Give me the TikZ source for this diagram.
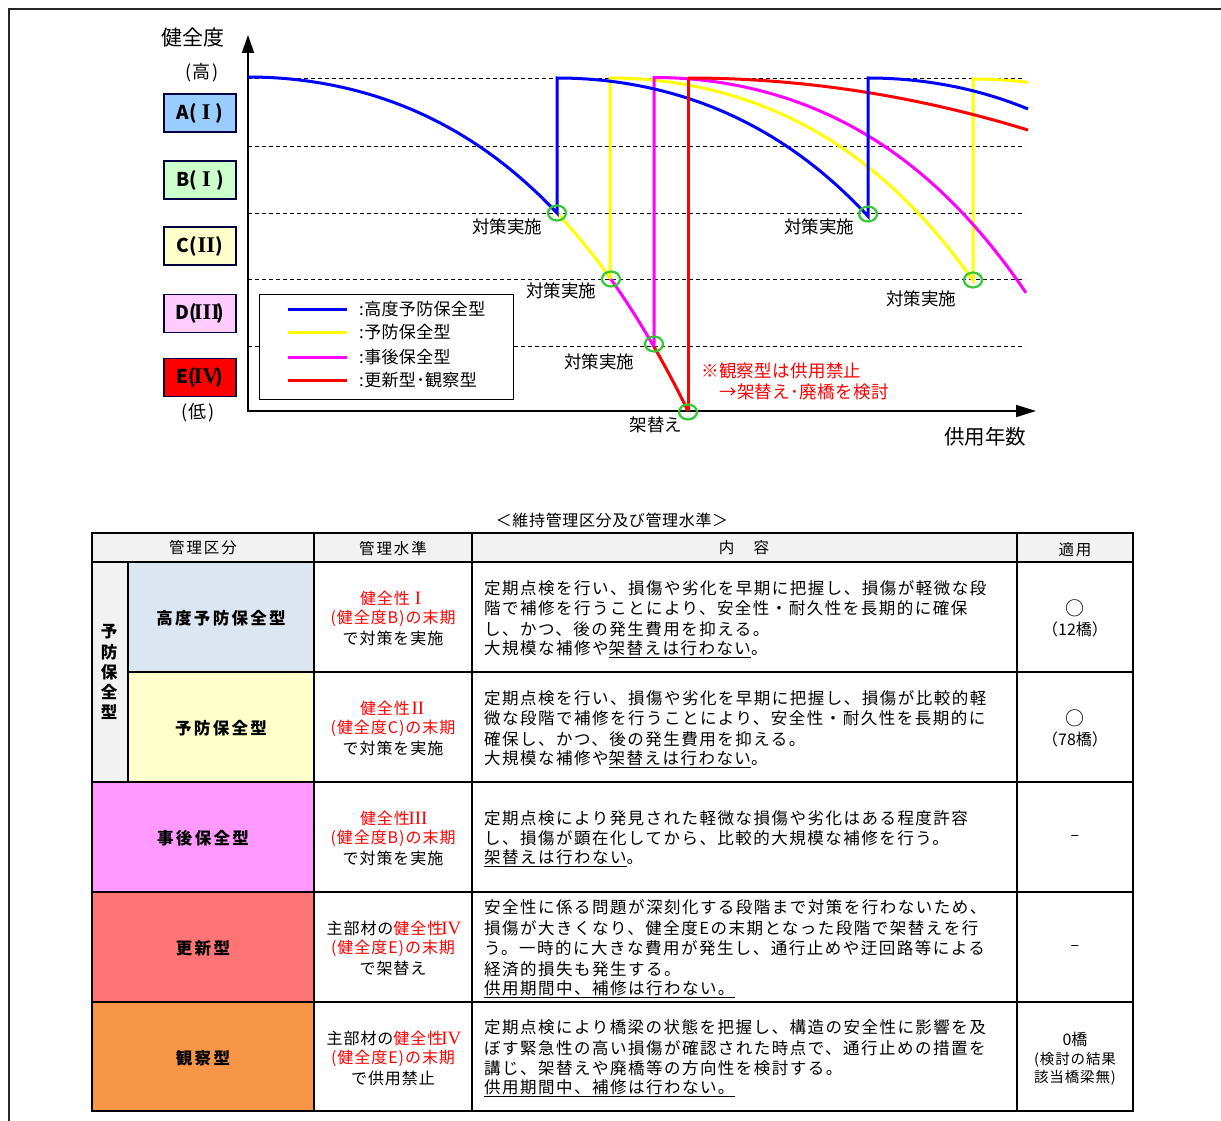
\documentclass[tikz,border=0pt]{standalone}
\usepackage{fontspec}
\setmainfont{Noto Sans CJK JP}
\newfontfamily\rmnum[Scale=1.18]{Liberation Serif}
\usetikzlibrary{arrows.meta}
\definecolor{cBlue}{RGB}{0,0,255}
\definecolor{cYel}{RGB}{255,255,0}
\definecolor{cMag}{RGB}{255,0,255}
\definecolor{cRed}{RGB}{255,0,0}
\definecolor{cGrn}{RGB}{50,200,50}
\definecolor{lvA}{RGB}{153,204,255}
\definecolor{lvB}{RGB}{204,255,204}
\definecolor{lvC}{RGB}{255,255,204}
\definecolor{lvD}{RGB}{255,204,255}
\definecolor{lvE}{RGB}{255,0,0}
\definecolor{hdr}{RGB}{242,242,242}
\definecolor{t1}{RGB}{220,230,241}
\definecolor{t2}{RGB}{255,255,204}
\definecolor{t3}{RGB}{255,153,255}
\definecolor{t4}{RGB}{255,117,117}
\definecolor{t5}{RGB}{247,150,70}
\newcommand\myfs[1]{\fontsize{#1pt}{#1pt}\selectfont}
\newcommand\myls[1]{\addfontfeature{LetterSpace=#1}}
\newcommand\rn[1]{\makebox[1em]{\rmnum #1}}
\pgfmathdeclarefunction{wear}{1}{\pgfmathparse{219.2*((#1)/440)^2+114.8*((#1)/440)^4}}
\tikzset{
  crv/.style={line width=3pt, line join=miter},
  lvl/.style={draw=black!75!blue, line width=1.2pt, minimum width=72pt, minimum height=38pt, inner sep=0, font=\myfs{19}\bfseries},
  lbl/.style={inner sep=0, font=\myfs{17.5}},
  ring/.style={draw=cGrn, line width=2.2pt},
  grid/.style={line width=0.8pt, dash pattern=on 4pt off 3pt},
  body/.style={inner sep=0, anchor=west, font=\myfs{16.5}\myls{9}},
  mg/.style={inner sep=0, font=\myfs{16}\myls{6}},
  ap/.style={inner sep=0, font=\myfs{16}},
  cat/.style={inner sep=0, font=\myfs{16.5}\bfseries\myls{14}},
  hd/.style={inner sep=0, font=\myfs{15.5}\myls{12}},
  tl/.style={line width=1.8pt}
}
\begin{document}
\begin{tikzpicture}[x=1pt,y=-1pt]
\useasboundingbox (0,0) rectangle (1221,1121);
% outer frame
\draw[line width=2pt, black!85] (9,1121) -- (9,9) -- (1221,9);
% ---------------- chart ----------------
\foreach \yy in {78,146,213,279,346} \draw[grid] (248,\yy) -- (1025,\yy);
% legend (covers grid)
\node[draw, fill=white, line width=1.4pt, anchor=north west, minimum width=254pt, minimum height=105pt, inner sep=0] (leg) at (259,294) {};
% axes
\draw[line width=1.8pt, -{Triangle[length=18pt,width=12pt]}] (248,412) -- (248,35);
\draw[line width=1.8pt, -{Triangle[length=20pt,width=12pt]}] (247,411) -- (1036,411);
% shared deterioration curve
\draw[crv, cRed] plot[domain=406:440, samples=20] ({248+\x},{77+wear(\x)});
\draw[crv, cMag] plot[domain=362:406, samples=20] ({248+\x},{77+wear(\x)});
\draw[crv, cYel] plot[domain=309:362, samples=20] ({248+\x},{77+wear(\x)});
% yellow
\draw[crv, cYel] (610,279) -- (610,78) -- plot[domain=0:363, samples=80] ({610+\x},{78+wear(\x)}) -- (973,79) -- plot[domain=0:55, samples=20] ({973+\x},{79+wear(\x)});
% magenta
\draw[crv, cMag] (654,345) -- (654,77.5) -- plot[domain=2:372, samples=80] ({654+\x},{77.5+wear(\x)});
% red
\draw[crv, cRed] plot[domain=0:340, samples=60] ({688+\x},{78+87.1*(\x/440)^2});
% blue
\draw[crv, cBlue] plot[domain=0:309, samples=80] ({248+\x},{77+wear(\x)}) -- (557,78) -- plot[domain=0:311, samples=80] ({557+\x},{78+wear(\x)}) -- (868,78) -- plot[domain=0:160, samples=40] ({868+\x},{78+wear(\x)});
\draw[crv, cRed] (688,411) -- (688,78);
% rings
\foreach \px/\py in {557/213, 611/279, 654/344, 688/412, 868/214, 973/280}
  \draw[ring] (\px,\py) ellipse [x radius=9pt, y radius=7.5pt];
% legend content
\draw[crv, cBlue] (288,309) -- (347,309);
\draw[crv, cYel] (288,332) -- (347,332);
\draw[crv, cMag] (288,357) -- (347,357);
\draw[crv, cRed] (288,380) -- (347,380);
\node[lbl, anchor=west, font=\myfs{17}\myls{2}] (lg1) at (359,309) {:高度予防保全型};
\node[lbl, anchor=west, font=\myfs{17}\myls{2}] (lg2) at (359,332) {:予防保全型};
\node[lbl, anchor=west, font=\myfs{17}\myls{2}] (lg3) at (359,357) {:事後保全型};
\node[lbl, anchor=west, font=\myfs{17}\myls{2}] (lg4) at (359,380) {:更新型･観察型};
% level boxes
\node[lbl, font=\myfs{21}] (ylab) at (193,38) {健全度};
\node[lbl, font=\myfs{18}\myls{10}] (hi) at (202,73) {(高)};
\node[lvl, fill=lvA] (A) at (200,113) {A(\rn{I})};
\node[lvl, fill=lvB] (B) at (200,180) {B(\rn{I})};
\node[lvl, fill=lvC] (C) at (200,246) {C(\rn{II})};
\node[lvl, fill=lvD] (D) at (200,313.5) {D(\rn{III})};
\node[lvl, fill=lvE] (E) at (200,377.5) {E(\rn{IV})};
\node[lbl, font=\myfs{18}\myls{10}] (lo) at (198,413) {(低)};
% labels
\node[lbl] (m1) at (507,227) {対策実施};
\node[lbl] (m2) at (561,291) {対策実施};
\node[lbl] (m3) at (599,362) {対策実施};
\node[lbl] (m4) at (819,227) {対策実施};
\node[lbl] (m5) at (921,299) {対策実施};
\node[lbl] (kk) at (656,425) {架替え};
\node[lbl, anchor=west, text=cRed, font=\myfs{17.5}\myls{2}] (n1) at (701,371) {※観察型は供用禁止};
\node[lbl, anchor=west, text=cRed, font=\myfs{17.5}\myls{2}] (n2) at (719,392) {→架替え･廃橋を検討};
\node[lbl, font=\myfs{20.5}] (xlab) at (985,437) {供用年数};
% ---------------- table ----------------
\node[inner sep=0, font=\myfs{16}\myls{4}] (ttl) at (612,520) {＜維持管理区分及び管理水準＞};
\fill[hdr] (92,533) rectangle (1133,562);
\fill[hdr] (92,562) rectangle (128,782);
\fill[t1] (128,562) rectangle (314,672);
\fill[t2] (128,672) rectangle (314,782);
\fill[t3] (92,782) rectangle (314,892);
\fill[t4] (92,892) rectangle (314,1002);
\fill[t5] (92,1002) rectangle (314,1111);
\draw[tl] (92,533) rectangle (1133,1111);
\draw[tl] (92,562) -- (1133,562);
\draw[tl] (128,672) -- (1133,672);
\foreach \yy in {782,892,1002} \draw[tl] (92,\yy) -- (1133,\yy);
\draw[tl] (128,562) -- (128,782);
\foreach \xx in {314,472,1017} \draw[tl] (\xx,533) -- (\xx,1111);
% header
\node[hd] (h1) at (203,548) {管理区分};
\node[hd] (h2) at (393,549) {管理水準};
\node[hd] (h3) at (744,548) {内　容};
\node[hd] (h4) at (1075,550) {適用};
% categories
\node[cat] (v1) at (109,632) {予};
\node[cat] (v2) at (109,652) {防};
\node[cat] (v3) at (109,672) {保};
\node[cat] (v4) at (109,692) {全};
\node[cat] (v5) at (109,712) {型};
\node[cat] (c1) at (221,618) {高度予防保全型};
\node[cat] (c2) at (221,728) {予防保全型};
\node[cat] (c3) at (203,838) {事後保全型};
\node[cat] (c4) at (203,948) {更新型};
\node[cat] (c5) at (203,1058) {観察型};
% management level
\node[mg, text=cRed] (g11) at (393,598) {健全性\rn{I}};
\node[mg, text=cRed] (g12) at (393,618) {(健全度B)の末期};
\node[mg] (g13) at (393,638) {で対策を実施};
\node[mg, text=cRed] (g21) at (393,708) {健全性\rn{II}};
\node[mg, text=cRed] (g22) at (393,728) {(健全度C)の末期};
\node[mg] (g23) at (393,748) {で対策を実施};
\node[mg, text=cRed] (g31) at (393,818) {健全性\rn{III}};
\node[mg, text=cRed] (g32) at (393,838) {(健全度B)の末期};
\node[mg] (g33) at (393,858) {で対策を実施};
\node[mg] (g41) at (393,928) {主部材の\textcolor{cRed}{健全性\rn{IV}}};
\node[mg, text=cRed] (g42) at (393,948) {(健全度E)の末期};
\node[mg] (g43) at (393,968) {で架替え};
\node[mg] (g51) at (393,1038) {主部材の\textcolor{cRed}{健全性\rn{IV}}};
\node[mg, text=cRed] (g52) at (393,1058) {(健全度E)の末期};
\node[mg] (g53) at (393,1078) {で供用禁止};
% contents
\node[body] (b11) at (484,588) {定期点検を行い、損傷や劣化を早期に把握し、損傷が軽微な段};
\node[body] (b12) at (484,608) {階で補修を行うことにより、安全性・耐久性を長期的に確保};
\node[body] (b13) at (484,629) {し、かつ、後の発生費用を抑える。};
\node[body] (b14) at (484,649) {大規模な補修や\underline{架替えは行わない}。};
\node[body] (b21) at (484,698) {定期点検を行い、損傷や劣化を早期に把握し、損傷が比較的軽};
\node[body] (b22) at (484,718) {微な段階で補修を行うことにより、安全性・耐久性を長期的に};
\node[body] (b23) at (484,739) {確保し、かつ、後の発生費用を抑える。};
\node[body] (b24) at (484,759) {大規模な補修や\underline{架替えは行わない}。};
\node[body] (b31) at (484,818) {定期点検により発見された軽微な損傷や劣化はある程度許容};
\node[body] (b32) at (484,838) {し、損傷が顕在化してから、比較的大規模な補修を行う。};
\node[body] (b33) at (484,858) {\underline{架替えは行わない}。};
\node[body] (b41) at (484,907) {安全性に係る問題が深刻化する段階まで対策を行わないため、};
\node[body] (b42) at (484,928) {損傷が大きくなり、健全度Eの末期となった段階で架替えを行};
\node[body] (b43) at (484,948) {う。一時的に大きな費用が発生し、通行止めや迂回路等による};
\node[body] (b44) at (484,969) {経済的損失も発生する。};
\node[body] (b45) at (484,989) {\underline{供用期間中、補修は行わない。}};
\node[body] (b51) at (484,1027) {定期点検により橋梁の状態を把握し、構造の安全性に影響を及};
\node[body] (b52) at (484,1048) {ぼす緊急性の高い損傷が確認された時点で、通行止めの措置を};
\node[body] (b53) at (484,1068) {講じ、架替えや廃橋等の方向性を検討する。};
\node[body] (b54) at (484,1088) {\underline{供用期間中、補修は行わない。}};
% apply
\node[ap, font=\myfs{19}] (a11) at (1075,608) {○};
\node[ap] (a12) at (1075,629) {（12橋）};
\node[ap, font=\myfs{19}] (a21) at (1075,718) {○};
\node[ap] (a22) at (1075,739) {（78橋）};
\node[ap] (a3) at (1075,838) {–};
\node[ap] (a4) at (1075,948) {–};
\node[ap] (a51) at (1075,1039) {0橋};
\node[ap, font=\myfs{14.5}\myls{6}] (a52) at (1075,1060) {(検討の結果};
\node[ap, font=\myfs{14.5}\myls{6}] (a53) at (1075,1078) {該当橋梁無)};
\end{tikzpicture}
\end{document}
